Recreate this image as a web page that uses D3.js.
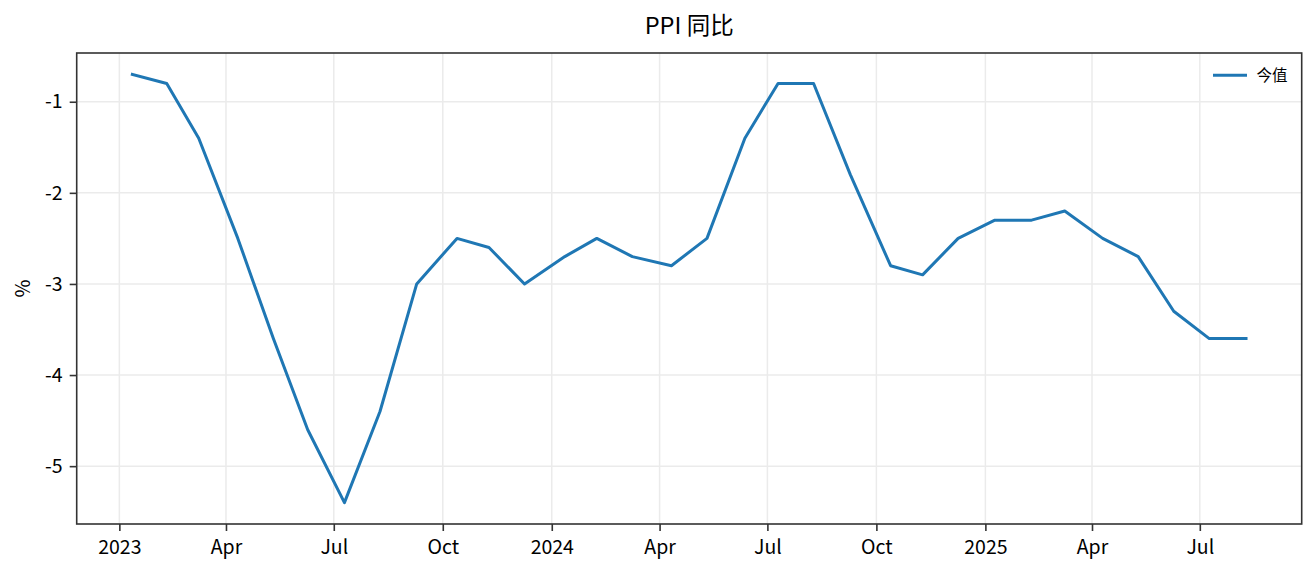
<!DOCTYPE html>
<html>
<head>
<meta charset="utf-8">
<script src="https://cdn.jsdelivr.net/npm/d3@7"></script>
<style>
  html, body { margin: 0; padding: 0; background: #fff; }
  svg text { font-family: "Noto Sans CJK SC", "Noto Sans", sans-serif; fill: #000; }
</style>
</head>
<body>
<div id="chart"></div>
<script>
// release dates and PPI yoy (%)
const dates = [
  "2023-01-12", "2023-02-10", "2023-03-09", "2023-04-11", "2023-05-11", "2023-06-09",
  "2023-07-10", "2023-08-09", "2023-09-09", "2023-10-13", "2023-11-09", "2023-12-09",
  "2024-01-12", "2024-02-08", "2024-03-09", "2024-04-11", "2024-05-11", "2024-06-12",
  "2024-07-10", "2024-08-09", "2024-09-09", "2024-10-13", "2024-11-09", "2024-12-09",
  "2025-01-09", "2025-02-09", "2025-03-09", "2025-04-10", "2025-05-10", "2025-06-09",
  "2025-07-09", "2025-08-09"
];
const values = [
  -0.7, -0.8, -1.4, -2.5, -3.6, -4.6,
  -5.4, -4.4, -3.0, -2.5, -2.6, -3.0,
  -2.7, -2.5, -2.7, -2.8, -2.5, -1.4,
  -0.8, -0.8, -1.8, -2.8, -2.9, -2.5,
  -2.3, -2.3, -2.2, -2.5, -2.7, -3.3,
  -3.6, -3.6
];
const yTicks = [-5, -4, -3, -2, -1];
const xTickDates = [
  "2023-01-01", "2023-04-01", "2023-07-01", "2023-10-01",
  "2024-01-01", "2024-04-01", "2024-07-01", "2024-10-01",
  "2025-01-01", "2025-04-01", "2025-07-01"
];
const title = "PPI 同比";
const seriesName = "今值";
const yLabel = "%";

const W = 1316, H = 574;
const m = { left: 76.7, right: W - 1301.7, top: 53, bottom: H - 524 };
const parse = d3.timeParse("%Y-%m-%d");
const data = dates.map((d, i) => ({ date: parse(d), value: values[i] }));

// matplotlib-like 5% margins
const tExt = d3.extent(data, d => +d.date);
const tPad = (tExt[1] - tExt[0]) * 0.05;
const vExt = d3.extent(values);
const vPad = (vExt[1] - vExt[0]) * 0.05;

const x = d3.scaleTime()
  .domain([new Date(tExt[0] - tPad), new Date(tExt[1] + tPad)])
  .range([m.left, W - m.right]);
const y = d3.scaleLinear()
  .domain([vExt[0] - vPad, vExt[1] + vPad])
  .range([H - m.bottom, m.top]);

const svg = d3.select("#chart").append("svg")
  .attr("width", W).attr("height", H)
  .style("display", "block");

const xTicks = xTickDates.map(parse);
const fmtTick = d => d.getMonth() === 0 ? d3.timeFormat("%Y")(d) : d3.timeFormat("%b")(d);

// grid
svg.append("g").selectAll("line").data(xTicks).join("line")
  .attr("x1", d => x(d)).attr("x2", d => x(d))
  .attr("y1", m.top).attr("y2", H - m.bottom)
  .attr("stroke", "#ebebeb").attr("stroke-width", 1.5);
svg.append("g").selectAll("line").data(yTicks).join("line")
  .attr("x1", m.left).attr("x2", W - m.right)
  .attr("y1", d => y(d)).attr("y2", d => y(d))
  .attr("stroke", "#ebebeb").attr("stroke-width", 1.5);

// line
svg.append("path")
  .datum(data)
  .attr("fill", "none")
  .attr("stroke", "#1f77b4")
  .attr("stroke-width", 3)
  .attr("stroke-linejoin", "round")
  .attr("stroke-linecap", "square")
  .attr("d", d3.line().x(d => x(d.date)).y(d => y(d.value)));

// axes
const xAxis = svg.append("g")
  .attr("transform", `translate(0,${H - m.bottom})`)
  .call(d3.axisBottom(x).tickValues(xTicks).tickFormat(fmtTick).tickSize(7).tickPadding(9));
const yAxis = svg.append("g")
  .attr("transform", `translate(${m.left},0)`)
  .call(d3.axisLeft(y).tickValues(yTicks).tickFormat(d3.format("d")).tickSize(7).tickPadding(7));
[xAxis, yAxis].forEach(a => {
  a.select(".domain").remove();
  a.selectAll(".tick line").attr("stroke", "#333").attr("stroke-width", 1.6);
  a.selectAll(".tick text").attr("font-size", 19.5).attr("fill", "#000");
});
yAxis.selectAll(".tick text").text(d => d < 0 ? "-" + Math.abs(d) : d);

// frame
svg.append("rect")
  .attr("x", m.left).attr("y", m.top)
  .attr("width", W - m.left - m.right).attr("height", H - m.top - m.bottom)
  .attr("fill", "none").attr("stroke", "#333").attr("stroke-width", 1.6);

// title
svg.append("text")
  .attr("x", (m.left + W - m.right) / 2).attr("y", 34)
  .attr("text-anchor", "middle").attr("font-size", 23.5)
  .text(title);

// y label
svg.append("text")
  .attr("transform", `translate(30,${(m.top + H - m.bottom) / 2}) rotate(-90)`)
  .attr("text-anchor", "middle").attr("font-size", 19.5)
  .text(yLabel);

// legend
const lg = svg.append("g").attr("transform", "translate(1213,75.3)");
lg.append("line").attr("x1", 0).attr("x2", 34).attr("y1", 0).attr("y2", 0)
  .attr("stroke", "#1f77b4").attr("stroke-width", 3);
lg.append("text").attr("x", 43.5).attr("y", 0).attr("dy", "0.35em")
  .attr("font-size", 15.5).text(seriesName);
</script>
</body>
</html>
